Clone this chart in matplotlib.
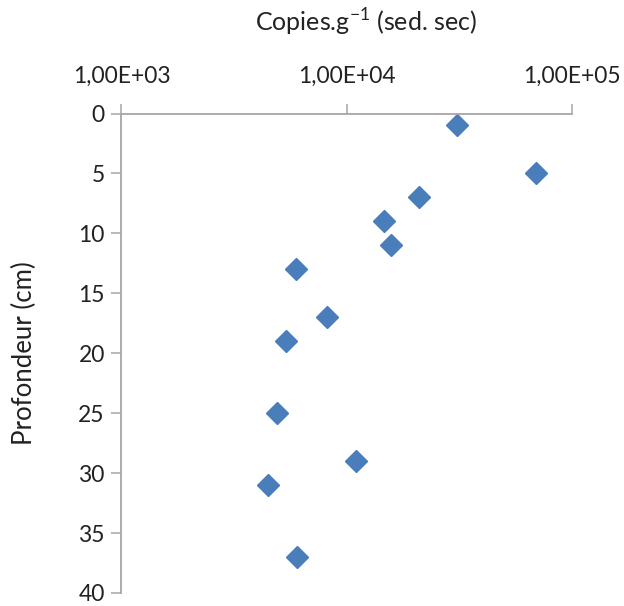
import matplotlib
matplotlib.use("Agg")
import matplotlib.pyplot as plt

plt.rcParams['font.family'] = ['Lato', 'DejaVu Sans']
plt.rcParams['mathtext.fontset'] = 'custom'
plt.rcParams['mathtext.rm'] = 'Lato'

# copies per gram of dry sediment vs depth
copies = [30900, 69500, 20850, 14680, 15660, 5945, 8190, 5385, 4910, 11020, 4480, 6025]
depth = [1, 5, 7, 9, 11, 13, 17, 19, 25, 29, 31, 37]

xticks = [1e3, 1e4, 1e5]
xlabels = ['1,00E+03', '1,00E+04', '1,00E+05']
yticks = [0, 5, 10, 15, 20, 25, 30, 35, 40]

fig = plt.figure(figsize=(6.24, 6.06), dpi=100)
ax = fig.add_axes([0.1947, 0.0215, 0.722, 0.7912])

ax.plot(copies, depth, linestyle='none', marker='D', markersize=11,
        color='#4A7EBB', markeredgecolor='#4A7EBB', clip_on=False)

ax.set_xscale('log')
ax.set_xlim(1e3, 1e5)
ax.set_ylim(40, 0)
ax.xaxis.tick_top()
ax.set_xticks(xticks)
ax.set_xticklabels(xlabels)
ax.minorticks_off()
ax.set_yticks(yticks)

for s in ['right', 'bottom']:
    ax.spines[s].set_visible(False)
for s in ['left', 'top']:
    ax.spines[s].set_color('#A6A6A6')
    ax.spines[s].set_linewidth(1.3)

ax.tick_params(axis='both', direction='out', length=7, width=1.1,
               color='#A6A6A6', labelsize=16.5, labelcolor='#222222', pad=5)
ax.tick_params(axis='x', pad=12)

ax.xaxis.set_label_position('top')
ax.set_xlabel('Copies.g$^{-1}$ (sed. sec)', fontsize=18, color='#222222', va='center')
ax.xaxis.set_label_coords(0.542, 1.19)
ax.set_ylabel('Profondeur (cm)', fontsize=18.5, color='#222222', va='center')
ax.yaxis.set_label_coords(-0.215, 0.5)

fig.savefig('out.png', dpi=100)
